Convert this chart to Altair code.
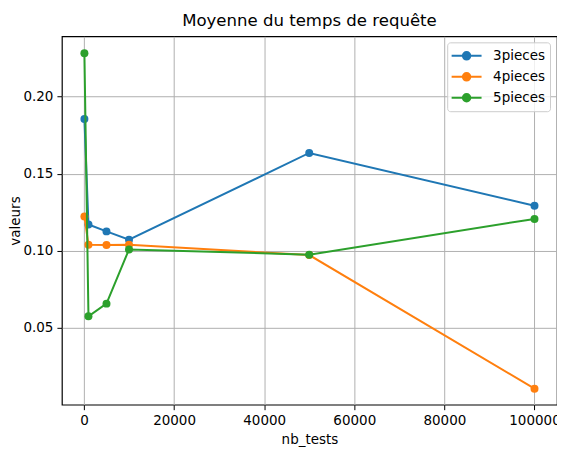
import altair as alt
import pandas as pd

nb_tests = [100, 1000, 5000, 10000, 50000, 100000]
series_names = ["3pieces", "4pieces", "5pieces"]
p3 = [0.1856, 0.1171, 0.1126, 0.1072, 0.1635, 0.1292]
p4 = [0.1223, 0.1039, 0.1037, 0.1039, 0.0972, 0.0105]
p5 = [0.2283, 0.0575, 0.0657, 0.1009, 0.0975, 0.1207]
colors = ["#1f77b4", "#ff7f0e", "#2ca02c"]
x_ticks = [0, 20000, 40000, 60000, 80000, 100000]
y_ticks = [0.05, 0.10, 0.15, 0.20]

rows = []
for name, vals in zip(series_names, [p3, p4, p5]):
    for x, v in zip(nb_tests, vals):
        rows.append({"nb_tests": x, "valeurs": v, "serie": name})
df = pd.DataFrame(rows)

FONT = "DejaVu Sans"
CX = 0.79  # centre of the legend marker in path units


def circ(r):
    return f"M{CX - r:.2f},0A{r},{r},0,1,1,{CX + r:.2f},0A{r},{r},0,1,1,{CX - r:.2f},0"


legend_path = f"M{CX - 2:.2f},0L{CX + 2:.2f},0" + "".join(
    circ(r) for r in [0.5, 0.34, 0.18, 0.06])

xenc = alt.X("nb_tests:Q", title="nb_tests",
             scale=alt.Scale(domain=[-4895, 104995], nice=False, zero=False),
             axis=alt.Axis(values=x_ticks, format="d"))
yenc = alt.Y("valeurs:Q", title="valeurs",
             scale=alt.Scale(domain=[0.0001, 0.2392], nice=False, zero=False),
             axis=alt.Axis(values=y_ticks, format=".2f"))
legend = alt.Legend(title=None, orient="none", legendX=386, legendY=6,
                    symbolType=legend_path, symbolSize=225, symbolStrokeWidth=2,
                    symbolOpacity=1,
                    labelFont=FONT, labelFontSize=13.5, labelColor="black",
                    padding=5, rowPadding=4, labelOffset=24,
                    strokeColor="#cccccc", fillColor="rgba(255,255,255,0.8)",
                    cornerRadius=3)
cenc_line = alt.Color("serie:N", scale=alt.Scale(domain=series_names, range=colors),
                      legend=legend)
cenc_pt = alt.Color("serie:N", scale=alt.Scale(domain=series_names, range=colors),
                    legend=None)

base = alt.Chart(df)
layers = []
for name in series_names:
    sub = base.transform_filter(alt.datum.serie == name)
    layers.append(sub.mark_line(strokeWidth=2).encode(x=xenc, y=yenc, color=cenc_line))
    layers.append(sub.mark_point(filled=True, size=64, opacity=1, strokeWidth=0)
                  .encode(x=xenc, y=yenc, color=cenc_pt))

chart = alt.layer(*layers).properties(
    width=496, height=369,
    title=alt.TitleParams("Moyenne du temps de requête", font=FONT, fontSize=16.6,
                          fontWeight="normal", color="black", anchor="middle",
                          offset=7),
    autosize=alt.AutoSizeParams(type="none"),
    padding={"left": 54, "top": 28, "right": 0, "bottom": 50},
).configure_view(stroke="black", strokeWidth=1.2).configure_axis(
    labelFont=FONT, labelFontSize=13.5, labelColor="black",
    titleFont=FONT, titleFontSize=13.5, titleFontWeight="normal", titleColor="black",
    tickColor="black", tickSize=5, tickWidth=1, labelPadding=4,
    domain=False, grid=True, gridColor="#b0b0b0", gridWidth=1,
).configure_axisX(titlePadding=5).configure_axisY(titlePadding=0)

chart.save("out.html", embed_options={"renderer": "svg", "actions": False})
